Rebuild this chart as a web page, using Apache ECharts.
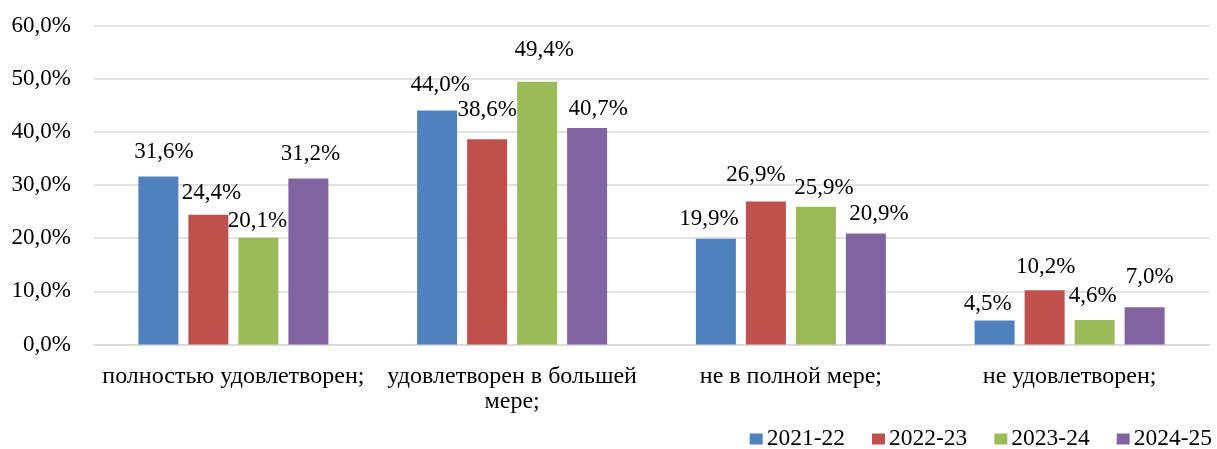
<!DOCTYPE html>
<html>
<head>
<meta charset="utf-8">
<script src="https://cdn.jsdelivr.net/npm/echarts@6/dist/echarts.min.js"></script>
<style>
html,body{margin:0;padding:0;background:#fff;}
#chart{width:1217px;height:449px;}
</style>
</head>
<body>
<div id="chart"></div>
<script>
const categories = ['полностью удовлетворен;', 'удовлетворен в большей мере;', 'не в полной мере;', 'не удовлетворен;'];
const seriesNames = ['2021-22', '2022-23', '2023-24', '2024-25'];
const s2021 = [31.6, 44.0, 19.9, 4.5];
const s2022 = [24.4, 38.6, 26.9, 10.2];
const s2023 = [20.1, 49.4, 25.9, 4.6];
const s2024 = [31.2, 40.7, 20.9, 7.0];
const yTicks = [0, 10, 20, 30, 40, 50, 60];

// presentation only: data-label nudges (dx px, lift of label centre above bar top px)
const dx2021 = [5.5, 3, -7, -7];
const dx2022 = [3, 0, -10, 1];
const dx2023 = [-1, 7, 8, -2];
const dx2024 = [2, 11, 13, 5];
const lift2021 = [25, 26, 20, 17];
const lift2022 = [22, 29, 27, 23];
const lift2023 = [17, 32, 19, 24.5];
const lift2024 = [25, 19, 19, 30.5];

const colors = ['#4F81BD', '#C0504D', '#9BBB59', '#8064A2'];
const FONT = '"Liberation Serif", "Times New Roman", serif';
const FS = 23;
const FS_CAT = 24;
const fmt = v => v.toFixed(1).replace('.', ',') + '%';

// word-wrap a category label to a maximum pixel width
const measureCtx = document.createElement('canvas').getContext('2d');
measureCtx.font = FS_CAT + 'px ' + FONT;
function wrap(text, maxW) {
  const words = text.split(' ');
  const lines = [];
  let cur = '';
  words.forEach(w => {
    const t = cur ? cur + ' ' + w : w;
    if (cur && measureCtx.measureText(t).width > maxW) { lines.push(cur); cur = w; }
    else cur = t;
  });
  if (cur) lines.push(cur);
  return lines.join('\n');
}

function mk(values, dxs, lifts) {
  return values.map((v, i) => ({
    value: v,
    label: { offset: [dxs[i], -(lifts[i] - 11.5)] }
  }));
}

const allVals = [s2021, s2022, s2023, s2024];
const allDx = [dx2021, dx2022, dx2023, dx2024];
const allLifts = [lift2021, lift2022, lift2023, lift2024];

const chart = echarts.init(document.getElementById('chart'), null, {renderer: 'canvas'});
chart.setOption({
  animation: false,
  color: colors,
  grid: { left: 94, right: 8, top: 25.5, bottom: 104.5, containLabel: false },
  legend: {
    right: 0, top: 422,
    itemWidth: 13, itemHeight: 11, itemGap: 27,
    icon: 'rect',
    textStyle: { fontFamily: FONT, fontSize: 23.5, color: '#000', padding: [0, 0, 0, -1] },
    data: seriesNames
  },
  xAxis: {
    type: 'category',
    data: categories,
    axisLine: { lineStyle: { color: '#d9d9d9', width: 1.5 } },
    axisTick: { show: false },
    axisLabel: {
      fontFamily: FONT, fontSize: FS_CAT, color: '#000', margin: 20,
      lineHeight: 25, interval: 0,
      formatter: v => wrap(v, 272)
    }
  },
  yAxis: {
    type: 'value',
    min: yTicks[0], max: yTicks[yTicks.length - 1], interval: 10,
    axisLine: { show: false },
    axisTick: { show: false },
    splitLine: { lineStyle: { color: '#d9d9d9', width: 1.5 } },
    axisLabel: {
      fontFamily: FONT, fontSize: FS, color: '#000', margin: 23,
      formatter: v => fmt(v)
    }
  },
  series: seriesNames.map((name, k) => ({
    name: name,
    type: 'bar',
    barWidth: 40,
    barGap: '25%',
    data: mk(allVals[k], allDx[k], allLifts[k]),
    label: {
      show: true, position: 'top', distance: 0,
      fontFamily: FONT, fontSize: FS, color: '#000',
      formatter: p => fmt(p.value)
    }
  }))
});
</script>
</body>
</html>
